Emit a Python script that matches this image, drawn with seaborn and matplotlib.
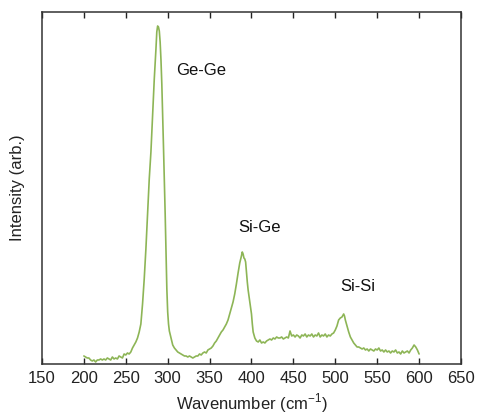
import matplotlib
matplotlib.use("Agg")
import matplotlib.pyplot as plt
import pandas as pd
import seaborn as sns

# Raman spectrum
wavenumber = [200, 202, 204, 206, 208, 210, 212, 214, 216, 218, 220, 222, 224, 226, 228, 230,
              232, 234, 236, 238, 240, 242, 244, 246, 248, 250, 252, 254, 256, 258, 260, 262,
              264, 266, 268, 270, 272, 274, 276, 278, 280, 282, 284, 286, 287, 288, 289, 290,
              291, 292, 293, 294, 295, 296, 297, 298, 299, 300, 301, 302, 304, 306, 308, 310,
              312, 314, 316, 318, 320, 322, 324, 326, 328, 330, 332, 334, 336, 338, 340, 342,
              344, 346, 348, 350, 352, 354, 356, 358, 360, 362, 364, 366, 368, 370, 372, 374,
              376, 378, 380, 382, 384, 386, 388, 389, 390, 391, 392, 393, 394, 395, 396, 398,
              400, 401, 402, 404, 406, 408, 410, 412, 414, 416, 418, 420, 422, 424, 426, 428,
              430, 432, 434, 436, 438, 440, 442, 444, 446, 448, 450, 452, 454, 456, 458, 460,
              462, 464, 466, 468, 470, 472, 474, 476, 478, 480, 482, 484, 486, 488, 490, 492,
              494, 496, 498, 500, 502, 504, 506, 508, 510, 511, 512, 514, 516, 518, 520, 522,
              524, 526, 528, 530, 532, 534, 536, 538, 540, 542, 544, 546, 548, 550, 552, 554,
              556, 558, 560, 562, 564, 566, 568, 570, 572, 574, 576, 578, 580, 582, 584, 586,
              588, 590, 592, 594, 596, 598, 600]
intensity = [8, 7, 6, 6, 4, 3, 4, 2, 4, 4, 5, 4, 5, 4, 6, 5,
             4, 7, 5, 6, 5, 8, 7, 6, 10, 9, 11, 10, 12, 16, 19, 22,
             26, 32, 40, 60, 85, 115, 150, 185, 212, 248, 285, 315, 332, 338, 337, 333,
             322, 304, 280, 250, 217, 185, 150, 114, 75, 52, 40, 33, 26, 19, 16, 14,
             12, 11, 10, 9, 8, 8, 7, 8, 7, 6, 7, 8, 8, 10, 9, 11,
             12, 11, 14, 15, 16, 18, 21, 23, 26, 29, 32, 34, 37, 40, 44, 50,
             56, 62, 70, 80, 91, 101, 108, 112, 110, 106, 105, 102, 92, 82, 74, 62,
             50, 40, 32, 26, 23, 22, 24, 21, 22, 21, 23, 24, 25, 24, 26, 25,
             27, 26, 26, 27, 25, 26, 27, 26, 33, 28, 29, 27, 29, 28, 26, 29,
             28, 30, 27, 29, 28, 30, 27, 29, 28, 31, 27, 29, 28, 30, 27, 29,
             28, 30, 31, 34, 38, 44, 46, 47, 50, 48, 44, 38, 32, 27, 24, 21,
             19, 17, 17, 16, 15, 16, 14, 15, 13, 15, 14, 13, 15, 14, 16, 13,
             14, 12, 14, 12, 13, 11, 13, 12, 14, 11, 12, 10, 13, 11, 12, 13,
             11, 14, 16, 19, 17, 14, 10]

peak_labels = ["Ge-Ge", "Si-Ge", "Si-Si"]
label_x = [310, 384, 506]
label_y = [293, 136, 77]

df = pd.DataFrame({"wavenumber": wavenumber, "intensity": intensity})

sns.set_theme(style="ticks")
plt.rcParams["font.family"] = ["Liberation Sans", "DejaVu Sans"]
plt.rcParams["mathtext.fontset"] = "custom"
plt.rcParams["mathtext.rm"] = "Liberation Sans"

fig = plt.figure(figsize=(4.82, 4.19), dpi=100)
ax = fig.add_axes([0.0871, 0.1313, 0.8693, 0.8401])

sns.lineplot(data=df, x="wavenumber", y="intensity", color="#8db556", linewidth=1.2, ax=ax)

for txt, tx, ty in zip(peak_labels, label_x, label_y):
    ax.text(tx, ty, txt, fontsize=12, va="center", ha="left", color="#111111")

ax.set_xlim(150, 650)
ax.set_ylim(0, 352)
ax.set_xticks(range(150, 651, 50))
ax.set_yticks([])
ax.tick_params(axis="x", direction="in", top=True, length=4, width=1, labelsize=12,
               colors="#222222", pad=5)
for sp in ax.spines.values():
    sp.set_visible(True)
    sp.set_color("#333333")
    sp.set_linewidth(1.1)

ax.set_xlabel("Wavenumber (cm$^{\\mathrm{-1}}$)", fontsize=12, color="#222222", labelpad=4)
ax.set_ylabel("Intensity (arb.)", fontsize=12, color="#222222", labelpad=12)

fig.savefig("out.png", dpi=100)
